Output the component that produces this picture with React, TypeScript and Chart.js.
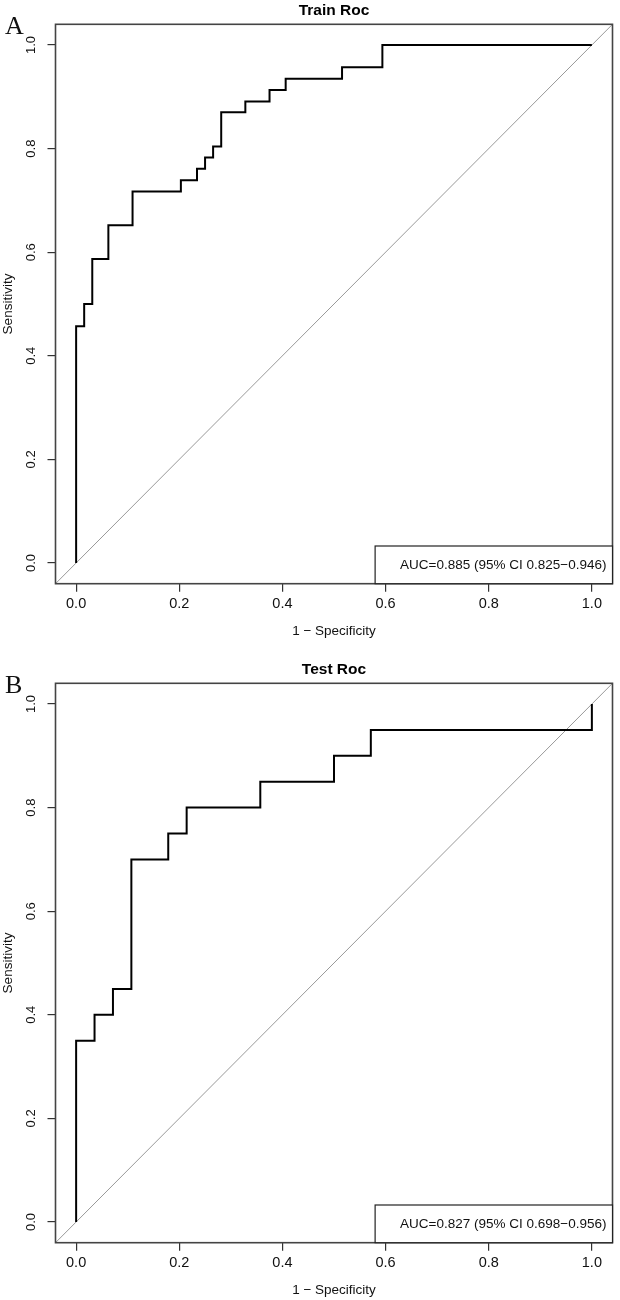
import React, { useEffect, useRef } from "react";
import { Chart, registerables } from "chart.js";

Chart.register(...registerables);

// Training cohort ROC operating points: 1 − specificity vs sensitivity
const trainFpr = [0, 0, 0.0156, 0.0313, 0.0625, 0.1094, 0.2031, 0.2344, 0.25, 0.2656, 0.2813, 0.3281, 0.375, 0.4063, 0.5156, 0.5938, 1.0];
const trainSens = [0, 0.457, 0.5, 0.587, 0.652, 0.717, 0.739, 0.761, 0.783, 0.804, 0.87, 0.891, 0.913, 0.935, 0.957, 1.0, 1.0];

// Test cohort ROC operating points
const testFpr = [0, 0, 0.0357, 0.0714, 0.1071, 0.1786, 0.2143, 0.3571, 0.5, 0.5714, 1.0];
const testSens = [0, 0.35, 0.4, 0.45, 0.7, 0.75, 0.8, 0.85, 0.9, 0.95, 1.0];

// Axis ticks and the padded range used on both axes
const axisTicks = [0, 0.2, 0.4, 0.6, 0.8, 1.0];
const axisMin = -0.04;
const axisMax = 1.04;
const chanceLine = [-0.04, 1.04];

const panelTags = ["A", "B"];
const panelTitles = ["Train Roc", "Test Roc"];
const aucLabels = ["AUC=0.885 (95% CI 0.825\u22120.946)", "AUC=0.827 (95% CI 0.698\u22120.956)"];
const xTitle = "1 \u2212 Specificity";
const yTitle = "Sensitivity";

const SANS = '"Liberation Sans", Arial, sans-serif';
const SERIF = '"Liberation Serif", "Times New Roman", serif';
const INK = "#111";

const PLOT_TOP = 24.3;
const PLOT_BOTTOM = 583.7;
const PLOT_LEFT = 55.5;
const PLOT_RIGHT = 612.5;
const X_TITLE_Y = 631;

const framePlugin = {
  id: "rocFrame",
  afterDraw(chart: any) {
    const { ctx, chartArea } = chart;
    const opts = chart.options.plugins.rocFrame;
    const ys = chart.scales.y;

    ctx.save();
    // plot box
    ctx.strokeStyle = "#444";
    ctx.lineWidth = 1.6;
    ctx.strokeRect(chartArea.left, chartArea.top, chartArea.right - chartArea.left, chartArea.bottom - chartArea.top);

    // rotated y tick labels
    ctx.font = `13px ${SANS}`;
    ctx.fillStyle = INK;
    ctx.textAlign = "center";
    ctx.textBaseline = "middle";
    ys.ticks.forEach((t: any) => {
      const py = ys.getPixelForValue(t.value);
      ctx.save();
      ctx.translate(ys.right - 24, py);
      ctx.rotate(-Math.PI / 2);
      ctx.fillText(Number(t.value).toFixed(1), 0, 0);
      ctx.restore();
    });

    // AUC legend box at bottom right
    ctx.font = `13.5px ${SANS}`;
    const textW = ctx.measureText(opts.auc).width;
    const textRight = chartArea.right - 6;
    const boxLeft = textRight - textW - 25;
    const boxTop = chartArea.bottom - 37.7;
    ctx.fillStyle = "#fff";
    ctx.fillRect(boxLeft, boxTop, chartArea.right - boxLeft, chartArea.bottom - boxTop);
    ctx.strokeStyle = "#222";
    ctx.lineWidth = 1.2;
    ctx.strokeRect(boxLeft, boxTop, chartArea.right - boxLeft, chartArea.bottom - boxTop);
    ctx.fillStyle = INK;
    ctx.textAlign = "right";
    ctx.textBaseline = "middle";
    ctx.fillText(opts.auc, textRight, (boxTop + chartArea.bottom) / 2);

    // panel tag
    ctx.font = `26px ${SERIF}`;
    ctx.textAlign = "left";
    ctx.textBaseline = "alphabetic";
    ctx.fillStyle = INK;
    ctx.fillText(opts.tag, 5, 34);
    ctx.restore();
  },
};

function buildConfig(idx: number, height: number) {
  const fpr = idx === 0 ? trainFpr : testFpr;
  const sens = idx === 0 ? trainSens : testSens;
  const tickFont = { family: SANS, size: 14.5, lineHeight: 1.2 };
  const titleFont = { family: SANS, size: 13.5 };
  return {
    type: "line" as const,
    data: {
      datasets: [
        {
          data: fpr.map((x, i) => ({ x, y: sens[i] })),
          borderColor: "#000",
          borderWidth: 2,
          stepped: "before" as const,
          pointRadius: 0,
          fill: false,
        },
        {
          data: chanceLine.map((v) => ({ x: v, y: v })),
          borderColor: "#999",
          borderWidth: 1,
          pointRadius: 0,
          fill: false,
        },
      ],
    },
    options: {
      animation: false as const,
      responsive: false,
      devicePixelRatio: 1,
      events: [],
      layout: { padding: { left: 0, right: 620 - PLOT_RIGHT, top: 0, bottom: 0 } },
      plugins: {
        legend: { display: false },
        tooltip: { enabled: false },
        title: {
          display: true,
          fullSize: false,
          text: panelTitles[idx],
          color: "#000",
          font: { family: SANS, size: 15.5, weight: "bold" as const, lineHeight: 1.2 },
          padding: { top: 1, bottom: PLOT_TOP - 1 - 15.5 * 1.2 },
        },
        rocFrame: { auc: aucLabels[idx], tag: panelTags[idx] },
      },
      scales: {
        x: {
          type: "linear" as const,
          min: axisMin,
          max: axisMax,
          afterBuildTicks: (s: any) => {
            s.ticks = axisTicks.map((v) => ({ value: v }));
          },
          afterFit: (s: any) => {
            s.height = height - PLOT_BOTTOM;
          },
          grid: { drawOnChartArea: false, drawTicks: true, tickLength: 8, color: "#333", lineWidth: 1.2 },
          border: { display: false },
          ticks: {
            font: tickFont,
            color: INK,
            padding: 4,
            maxRotation: 0,
            autoSkip: false,
            callback: (v: any) => Number(v).toFixed(1),
          },
          title: {
            display: true,
            text: xTitle,
            color: INK,
            font: { ...titleFont, lineHeight: 1.2 },
            padding: { top: 0, bottom: height - X_TITLE_Y - (13.5 * 1.2) / 2 },
          },
        },
        y: {
          type: "linear" as const,
          min: axisMin,
          max: axisMax,
          afterBuildTicks: (s: any) => {
            s.ticks = axisTicks.map((v) => ({ value: v }));
          },
          afterFit: (s: any) => {
            s.width = PLOT_LEFT;
          },
          grid: { drawOnChartArea: false, drawTicks: true, tickLength: 8, color: "#333", lineWidth: 1.2 },
          border: { display: false },
          ticks: { display: false },
          title: {
            display: true,
            text: yTitle,
            color: INK,
            font: { ...titleFont, lineHeight: 1.2 },
            padding: { top: 0, bottom: 0 },
          },
        },
      },
    },
    plugins: [framePlugin],
  };
}

function RocPanel({ idx, height }: { idx: number; height: number }) {
  const ref = useRef<HTMLCanvasElement>(null);
  useEffect(() => {
    const chart = new Chart(ref.current as HTMLCanvasElement, buildConfig(idx, height) as any);
    return () => chart.destroy();
  }, [idx, height]);
  return <canvas ref={ref} width={620} height={height} style={{ display: "block", width: 620, height }} />;
}

export default function App() {
  return (
    <div style={{ position: "absolute", left: 0, top: 0, width: 620, height: 1300, background: "#fff" }}>
      <RocPanel idx={0} height={659} />
      <RocPanel idx={1} height={641} />
    </div>
  );
}
